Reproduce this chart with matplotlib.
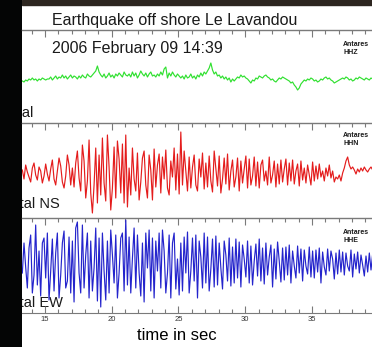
import numpy as np
import matplotlib
matplotlib.use("Agg")
import matplotlib.pyplot as plt
from matplotlib.patches import Rectangle
from matplotlib.ticker import MultipleLocator

# ── Recording ─────────────────────────────────────────────────────────────────
title_text = "Earthquake off shore Le Lavandou"
date_text = "2006 February 09 14:39"
station = "Antares"
channels = ["HHZ", "HHN", "HHE"]
components = ["Vertical", "Horizontal NS", "Horizontal EW"]
x_label = "time in sec"

t_start = 13.3     # s, first sample shown
dt = 0.125         # s, sample spacing

hhz = [
    0, -1, 1, 0, 2, 1, 3, 1, 2, 0, 2, 1, 3, 2, 1, 2,
    2, 4, 1, 3, 5, 2, 4, 3, 6, 3, 5, 2, 4, 6, 3, 5,
    4, 2, 5, 3, 6, 4, 3, 7, 5, 4, 6, 8, 10, 15, 9, 6,
    4, 7, 3, 5, 8, 4, 6, 3, 7, 5, 8, 6, 4, 9, 6, 5,
    7, 4, 9, 5, 8, 3, 6, 10, 7, 5, 8, 4, 7, 9, 5, 6,
    4, 7, 5, 9, 6, 12, 14, 3, 8, 5, 9, 6, 4, 7, 5, 3,
    5, 2, 6, 3, 4, 7, 3, 5, 2, 6, 4, 8, 5, 9, 7, 10,
    13, 18, 11, 7, 9, 5, 6, 3, 5, 2, 4, 1, 3, -1, 2, 0,
    2, 4, 3, 6, 4, 5, 3, 2, 0, -2, 1, 0, 3, 2, 5, 4,
    3, 5, 6, 4, 3, 1, 2, 0, -1, 1, 3, 2, 4, 3, 2, 1,
    0, -2, -1, -4, -6, -9, -7, -3, -1, 1, 0, 2, 1, 3, 2, 0,
    1, -1, 0, 2, 1, 3, 4, 2, 3, 1, 0, -2, -1, 0, 1, 2,
    3, 2, 4, 3, 1, 2, 0, 1, 3, 2, 4, 3, 2, 1, 3, 2,
    1, 3, 2, 1,
]

hhn = [
    3, -6, 8, 1, -4, -9, 5, 10, -2, -7, 6, 2, -10, -3, 9, -1,
    -8, 4, 13, -6, -12, 2, 15, 7, -9, -15, -3, 18, 8, -12, 5, -14,
    10, 22, -5, -18, 28, 12, -25, -8, 33, -20, -40, -12, 25, -30, 18, -22,
    35, -10, -28, 38, 6, -37, -15, 26, -25, 32, 14, -20, 29, -30, 38, -34,
    5, -22, 25, -6, -18, 20, -27, -9, 15, 22, -12, -25, 18, 3, -27, 24,
    -14, 8, 19, -20, 16, -6, 23, -15, -22, 12, -4, 25, -17, 19, -21, 41,
    -12, 22, 2, -18, 16, -15, 6, 18, -12, -18, 14, -4, 20, -16, 10, -14,
    17, -8, -19, 22, 4, -13, 17, -20, -6, 15, -11, 19, -17, 2, 13, -14,
    -4, 15, -18, 12, -10, 4, 17, -15, 14, -12, -3, 16, -13, 11, -15, 8,
    13, -8, 2, -12, 16, -10, -2, 12, -14, 9, -11, 13, -9, 4, 14, -12,
    10, -8, 13, -11, 2, 9, -13, 12, -7, 5, -10, 8, -2, -12, 11, -8,
    7, -6, 9, -4, 2, -8, 5, -3, 8, -5, 2, -9, -4, -6, -2, -8,
    0, 5, 12, 16, 8, 4, 6, 3, -1, 4, 1, 5, 2, 6, 3, 1,
    4, 6, 3, 2,
]

hhe = [
    -10, 20, -4, -25, 15, 28, -30, -12, 38, -22, 12, -33, 20, 25, -15, 30,
    -37, -8, 24, -28, 10, 30, -35, -12, 20, 32, -25, -18, 26, -30, 22, -39,
    35, 41, -10, -30, 38, -25, 8, 30, -35, 22, -28, -5, 35, -38, 25, -44,
    30, -8, -37, 22, -30, 33, 8, -20, 28, -35, -10, 25, 30, -28, 43, -22,
    26, -30, 5, 35, -25, 28, -10, -33, 20, -39, 30, -5, 33, -28, 25, -35,
    22, -8, 30, -25, 33, 12, -30, -10, 28, -35, 20, 30, -26, 4, -32, 20,
    -28, 26, -10, 31, -30, -8, 25, -18, 28, -35, 22, 6, -25, 30, -20, 26,
    -28, -6, 24, -24, 27, -22, 20, -5, -26, 22, 8, -18, 25, -23, 16, -20,
    24, -15, 21, -24, 18, 4, -14, 22, -20, 17, -22, 2, 19, -13, 24, -18,
    15, -21, 20, -12, 6, 18, -24, 14, -16, 21, 2, -19, 15, -17, 16, -12,
    18, -20, 12, -3, -15, 17, -10, 14, -18, 13, -3, -11, 16, -14, 12, -15,
    13, -9, 15, -20, 11, -4, -12, 14, -8, 12, 4, -16, 10, -11, 13, -9,
    11, -12, 10, -3, -8, 13, -14, 9, -6, 11, -10, 8, -2, -13, 7, -9,
    10, -7, 9, -5,
]

# ── Style ─────────────────────────────────────────────────────────────────────
W, H, DPI = 372, 347, 100
FONT = ["Liberation Sans", "DejaVu Sans"]
trace_colors = ["#30e030", "#e41c1c", "#2424cc"]
axis_grey = "#7a7a7a"

plt.rcParams.update({
    "font.family": FONT,
    "text.color": "#1a1a1a",
    "xtick.color": axis_grey,
    "xtick.labelcolor": "#333333",
})

fig = plt.figure(figsize=(W / DPI, H / DPI), dpi=DPI, facecolor="#040505")

# white sheet in pixel coordinates (x right, y down)
paper = fig.add_axes([22 / W, 0, 1 - 22 / W, 1])
paper.set_xlim(22, W)
paper.set_ylim(H, 0)
paper.set_facecolor("white")
paper.set_xticks([])
paper.set_yticks([])
for s in paper.spines.values():
    s.set_visible(False)
paper.add_patch(Rectangle((22, 0), W - 22, 5, color="#2d2620", zorder=1))

paper.text(52, 25, title_text, fontsize=11.5, va="baseline", ha="left")
paper.text(52, 53, date_text, fontsize=11.5, va="baseline", ha="left")

# ── Traces ────────────────────────────────────────────────────────────────────
panel_px = [(30, 123, 81), (123, 218, 173), (218, 313, 263)]   # top, bottom, zero line
label_end = [34, 60, 63]
label_base = [117, 208, 307]
tag_top = [41, 132, 229]
traces = [hhz, hhn, hhe]

for i, (top, bot, zero) in enumerate(panel_px):
    ax = fig.add_axes([22 / W, 1 - bot / H, 1 - 22 / W, (bot - top) / H])
    ax.patch.set_alpha(0)
    vals = np.array(traces[i], dtype=float)
    t = t_start + dt * np.arange(len(vals))
    ax.plot(t, vals, color=trace_colors[i], lw=0.85)
    ax.set_xlim(13.275, 39.5)
    ax.set_ylim(-(bot - zero), zero - top)
    ax.set_yticks([])
    ax.xaxis.set_major_locator(MultipleLocator(5))
    ax.xaxis.set_minor_locator(MultipleLocator(1))
    for s in ["left", "right", "bottom"]:
        ax.spines[s].set_visible(False)
    ax.spines["top"].set_color(axis_grey)
    ax.spines["top"].set_linewidth(1.0)
    ax.tick_params(axis="x", which="both", direction="in", top=True,
                   bottom=False, labelbottom=False, labeltop=False, width=0.8)
    ax.tick_params(axis="x", which="major", length=5)
    ax.tick_params(axis="x", which="minor", length=3)

    paper.text(label_end[i], label_base[i], components[i], fontsize=10.5,
               ha="right", va="baseline", clip_on=True)
    paper.text(343, tag_top[i], f"{station}\n{channels[i]}", fontsize=5,
               fontweight="bold", ha="left", va="top", linespacing=1.2)

    if i == len(panel_px) - 1:
        ax.spines["bottom"].set_visible(True)
        ax.spines["bottom"].set_color(axis_grey)
        ax.tick_params(axis="x", which="both", bottom=True, labelbottom=True,
                       labelsize=5.5, pad=2.5)
        ax.set_xlabel(x_label, fontsize=12, va="center")
        ax.xaxis.set_label_coords((177 - 22) / 350, -(336 - 313) / 95)

fig.savefig("out.png", dpi=DPI, facecolor=fig.get_facecolor())
